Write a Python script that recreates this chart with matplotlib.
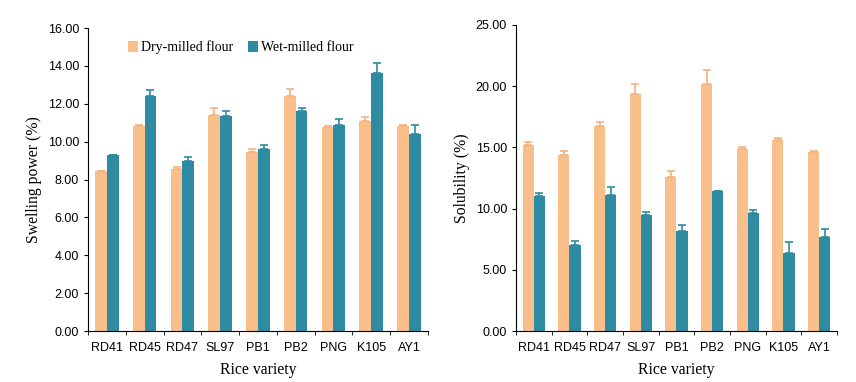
import numpy as np
from matplotlib import pyplot as plt

varieties = ["RD41", "RD45", "RD47", "SL97", "PB1", "PB2", "PNG", "K105", "AY1"]

swell_dry = [8.45, 10.85, 8.55, 11.40, 9.45, 12.40, 10.75, 11.10, 10.85]
swell_dry_err = [0.02, 0.05, 0.10, 0.40, 0.15, 0.40, 0.10, 0.20, 0.05]
swell_wet = [9.30, 12.40, 9.00, 11.35, 9.60, 11.60, 10.90, 13.60, 10.40]
swell_wet_err = [0.02, 0.30, 0.20, 0.25, 0.20, 0.20, 0.30, 0.55, 0.50]

sol_dry = [15.20, 14.40, 16.75, 19.35, 12.60, 20.20, 14.85, 15.60, 14.60]
sol_dry_err = [0.25, 0.30, 0.30, 0.85, 0.50, 1.10, 0.20, 0.20, 0.10]
sol_wet = [11.00, 7.00, 11.10, 9.50, 8.20, 11.40, 9.65, 6.40, 7.70]
sol_wet_err = [0.25, 0.35, 0.65, 0.25, 0.45, 0.05, 0.25, 0.85, 0.60]

dry_color = "#F9BF8B"
wet_color = "#2F8BA2"

fig = plt.figure(figsize=(8.56, 3.82), dpi=100)
ax1 = fig.add_axes([0.1028, 0.1335, 0.397, 0.7932])
ax2 = fig.add_axes([0.6028, 0.1335, 0.375, 0.8011])

x = np.arange(len(varieties))
w = 0.31


def panel(ax, dry, dry_err, wet, wet_err, ymax, step, ylabel):
    z = np.zeros(len(dry))
    ax.bar(x - w / 2, dry, w, color=dry_color, label="Dry-milled flour")
    ax.bar(x + w / 2, wet, w, color=wet_color, label="Wet-milled flour")
    ax.errorbar(x - w / 2, dry, yerr=[z, dry_err], fmt="none", ecolor="#F5B27E",
                capsize=3, elinewidth=1.2, capthick=1.2)
    ax.errorbar(x + w / 2, wet, yerr=[z, wet_err], fmt="none", ecolor=wet_color,
                capsize=3, elinewidth=1.2, capthick=1.2)
    ax.set_xlim(-0.5, len(varieties) - 0.5)
    ax.set_ylim(0, ymax)
    ax.set_yticks(np.arange(0, ymax + 0.01, step))
    ax.set_yticklabels(["%.2f" % v for v in np.arange(0, ymax + 0.01, step)],
                       family="Liberation Sans", fontsize=9)
    ax.set_xticks(x)
    ax.set_xticklabels(varieties, family="Liberation Sans", fontsize=9)
    ax.set_xticks(np.arange(-0.5, len(varieties), 1), minor=True)
    ax.tick_params(axis="x", which="major", length=0, pad=8)
    ax.tick_params(axis="x", which="minor", length=3, direction="out")
    ax.tick_params(axis="y", length=3, direction="out")
    ax.spines["top"].set_visible(False)
    ax.spines["right"].set_visible(False)
    ax.set_xlabel("Rice variety", family="Liberation Serif", fontsize=11.3, labelpad=6)
    ax.set_ylabel(ylabel, family="Liberation Serif", fontsize=11.3)


panel(ax1, swell_dry, swell_dry_err, swell_wet, swell_wet_err, 16, 2, "Swelling power (%)")
panel(ax2, sol_dry, sol_dry_err, sol_wet, sol_wet_err, 25, 5, "Solubility (%)")

ax1.legend(loc="upper center", bbox_to_anchor=(0.45, 1.0), ncol=2, frameon=False,
           prop={"family": "Liberation Serif", "size": 10}, handlelength=0.7,
           handleheight=0.9, handletextpad=0.2, columnspacing=1.1)

fig.savefig("out.png", dpi=100)
